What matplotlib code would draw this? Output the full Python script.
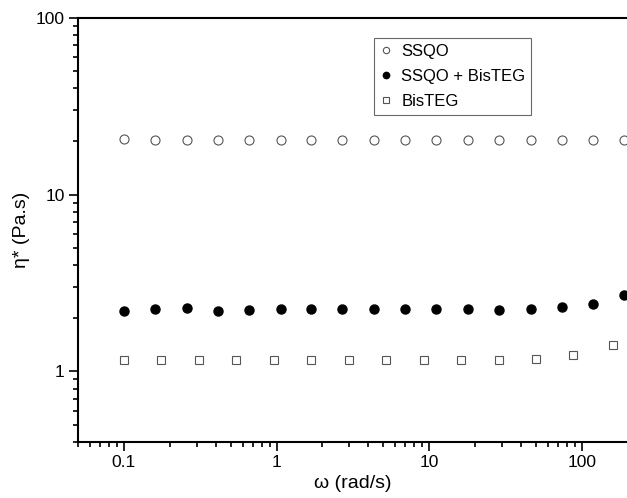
import matplotlib
matplotlib.use('Agg')
import matplotlib.pyplot as plt
from matplotlib.ticker import LogLocator, FuncFormatter, NullFormatter

plt.rcParams['font.family'] = ['Liberation Sans', 'DejaVu Sans']

# SSQO and SSQO + BisTEG share the same frequencies
w_ssqo = [0.1, 0.159, 0.258, 0.411, 0.656, 1.077, 1.69, 2.69, 4.37, 6.97,
          11.1, 17.9, 28.8, 46.4, 74.1, 118.6, 189]
eta_ssqo = [20.7, 20.4, 20.3, 20.4, 20.4, 20.4, 20.4, 20.4, 20.4, 20.4,
            20.4, 20.4, 20.4, 20.3, 20.3, 20.3, 20.5]
eta_mix = [2.21, 2.24, 2.29, 2.21, 2.22, 2.24, 2.24, 2.24, 2.24, 2.24,
           2.24, 2.24, 2.23, 2.25, 2.30, 2.42, 2.72]

# BisTEG
w_bis = [0.1, 0.176, 0.31, 0.545, 0.96, 1.69, 2.97, 5.2, 9.2, 16.2,
         28.5, 50, 88, 161]
eta_bis = [1.16, 1.16, 1.16, 1.16, 1.16, 1.16, 1.16, 1.16, 1.16, 1.16,
           1.16, 1.18, 1.24, 1.41]

fig = plt.figure(figsize=(6.27, 4.98), dpi=100)
ax = fig.add_axes([0.1244, 0.113, 0.8756, 0.851])

ax.plot(w_ssqo, eta_ssqo, 'o', ls='none', mfc='white', mec='#555555', mew=0.8,
        ms=6.5, label='SSQO')
ax.plot(w_ssqo, eta_mix, 'o', ls='none', mfc='black', mec='black',
        ms=6.5, label='SSQO + BisTEG')
ax.plot(w_bis, eta_bis, 's', ls='none', mfc='white', mec='#555555', mew=0.8,
        ms=6, label='BisTEG')

ax.set_xscale('log')
ax.set_yscale('log')
ax.set_xlim(0.05, 198)
ax.set_ylim(0.4, 100)

fmt = FuncFormatter(lambda v, p: '%g' % v)
ax.xaxis.set_major_formatter(fmt)
ax.yaxis.set_major_formatter(fmt)
ax.xaxis.set_minor_locator(LogLocator(base=10, subs=range(2, 10)))
ax.yaxis.set_minor_locator(LogLocator(base=10, subs=range(2, 10)))
ax.xaxis.set_minor_formatter(NullFormatter())
ax.yaxis.set_minor_formatter(NullFormatter())

ax.spines['right'].set_visible(False)
for s in ['left', 'bottom', 'top']:
    ax.spines[s].set_linewidth(1.5)
ax.tick_params(which='both', direction='out', top=False, right=False,
               width=1.2, labelsize=12.5)
ax.tick_params(which='major', length=6.5, pad=3)
ax.tick_params(which='minor', length=3.5)

ax.set_xlabel('ω (rad/s)', fontsize=14, labelpad=4)
ax.set_ylabel('η* (Pa.s)', fontsize=14, labelpad=4)

leg = ax.legend(loc='upper left', bbox_to_anchor=(0.539, 0.953), fontsize=12,
                frameon=True, fancybox=False, markerscale=0.7,
                handlelength=0.7, handletextpad=0.6, borderpad=0.35,
                labelspacing=0.6, borderaxespad=0)
leg.get_frame().set_edgecolor('#444444')
leg.get_frame().set_linewidth(0.8)

fig.savefig('out.png', dpi=100)
